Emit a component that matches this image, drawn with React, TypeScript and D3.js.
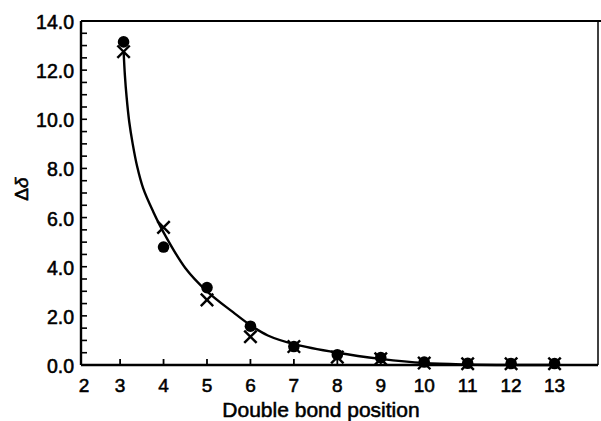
import React from "react";
import * as d3 from "d3";

const xTicks = [2, 3, 4, 5, 6, 7, 8, 9, 10, 11, 12, 13];
const yTickLabels = ["0.0", "2.0", "4.0", "6.0", "8.0", "10.0", "12.0", "14.0"];
const yMajor = [0, 2, 4, 6, 8, 10, 12, 14];
const yMinor = d3.range(0, 14.01, 0.5);

const dotX = [3.08, 4, 5, 6, 7, 8, 9, 10, 11, 12, 13];
const dotY = [13.15, 4.8, 3.15, 1.58, 0.75, 0.42, 0.3, 0.12, 0.07, 0.06, 0.06];
const crossX = [3.08, 4, 5, 6, 7, 8, 9, 10, 11, 12, 13];
const crossY = [12.75, 5.6, 2.65, 1.15, 0.75, 0.32, 0.25, 0.08, 0.05, 0.05, 0.05];

const curveX = [3.08, 3.11, 3.15, 3.21, 3.29, 3.39, 3.53, 3.76, 4.0, 4.5, 5.0, 5.6, 6.0, 6.4, 7.0, 8.0, 9.0, 10.0, 11.0, 12.0, 13.0];
const curveY = [12.8, 11.8, 10.9, 9.9, 9.0, 8.1, 7.2, 6.25, 5.4, 3.95, 3.0, 2.15, 1.62, 1.2, 0.85, 0.5, 0.25, 0.08, 0.02, 0.0, 0.0];

const W = 601;
const H = 421;
const left = 81;
const right = 598;
const top = 21;
const bottom = 365;

export default function App() {
  const x = d3.scaleLinear().domain([2.1, 14]).range([left, right]);
  const y = d3.scaleLinear().domain([0, 14]).range([bottom, top]);
  const line = d3
    .line<number>()
    .x((_, i) => x(curveX[i]))
    .y((_, i) => y(curveY[i]))
    .curve(d3.curveCatmullRom.alpha(0.5));
  const font = "'Liberation Sans', Arial, Helvetica, sans-serif";
  const cs = 6.2;
  const txt = { fontFamily: font, fill: "#000", stroke: "#000", strokeWidth: 0.55 };
  return (
    <svg
      width={W}
      height={H}
      style={{ position: "absolute", left: 0, top: 0, background: "#fff" }}
    >
      <rect x={0} y={0} width={W} height={H} fill="#fff" />
      {yMinor.map((v) => (
        <line key={"ym" + v} x1={left} x2={left + 6} y1={y(v)} y2={y(v)} stroke="#000" strokeWidth={1.6} />
      ))}
      {xTicks.filter((v) => v > 2).map((v) => (
        <line key={"xt" + v} x1={x(v)} x2={x(v)} y1={bottom} y2={bottom - 6} stroke="#000" strokeWidth={1.8} />
      ))}
      <line x1={left} x2={left} y1={top} y2={bottom} stroke="#000" strokeWidth={2.4} />
      <line x1={left} x2={right} y1={bottom} y2={bottom} stroke="#000" strokeWidth={2.4} />
      <line x1={right} x2={right} y1={top} y2={bottom} stroke="#000" strokeWidth={1.5} />
      <line x1={left} x2={W} y1={top} y2={top} stroke="#000" strokeWidth={2} />
      {yMajor.map((v, i) => (
        <text key={"yl" + v} x={74} y={y(v) + 8} textAnchor="end" fontSize={19.5} {...txt}>
          {yTickLabels[i]}
        </text>
      ))}
      {xTicks.map((v) => (
        <text
          key={"xl" + v}
          x={Math.max(x(v), left + 3)}
          y={392}
          textAnchor="middle"
          fontSize={19}
          {...txt}
        >
          {v}
        </text>
      ))}
      <text x={321} y={417} textAnchor="middle" fontSize={21} {...txt}>
        Double bond position
      </text>
      <text transform={`translate(28, ${189}) rotate(-90)`} textAnchor="middle" fontSize={19} {...txt}>
        Δ<tspan fontStyle="italic">δ</tspan>
      </text>
      <path d={line(curveX) || ""} fill="none" stroke="#000" strokeWidth={2.4} />
      {crossX.map((v, i) => (
        <g key={"c" + i} transform={`translate(${x(v)},${y(crossY[i])})`}>
          <line x1={-cs} y1={-cs} x2={cs} y2={cs} stroke="#000" strokeWidth={2.4} />
          <line x1={-cs} y1={cs} x2={cs} y2={-cs} stroke="#000" strokeWidth={2.4} />
        </g>
      ))}
      {dotX.map((v, i) => (
        <circle key={"d" + i} cx={x(v)} cy={y(dotY[i])} r={5.8} fill="#000" />
      ))}
    </svg>
  );
}
